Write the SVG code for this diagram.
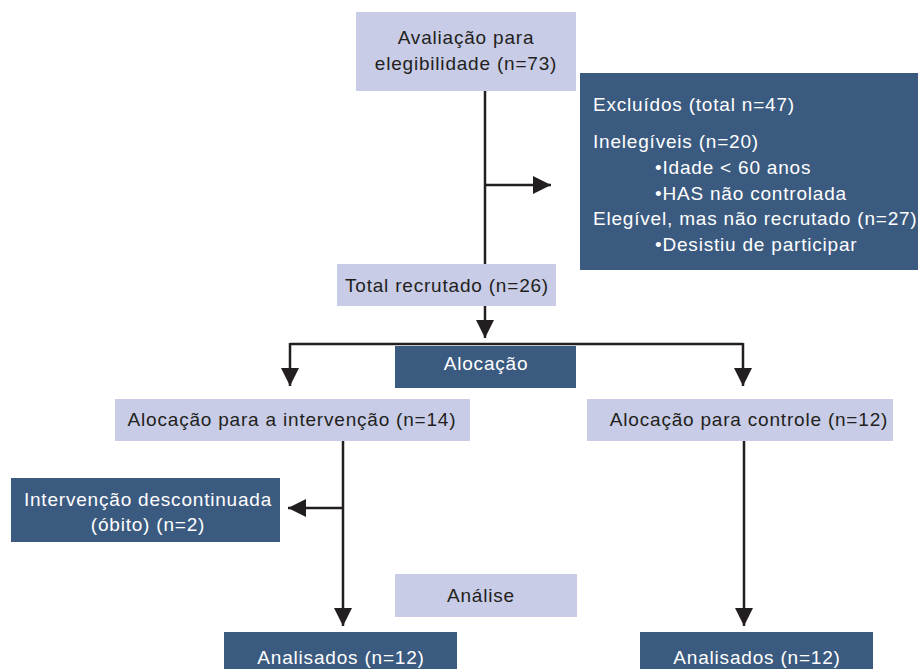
<svg xmlns="http://www.w3.org/2000/svg" width="918" height="669" viewBox="0 0 918 669">
<style>
.l{fill:#C8CCE6}
.d{fill:#3B5A80}
text{font-family:"Liberation Sans",Arial,sans-serif;font-size:19px;letter-spacing:0.8px}
.tl{fill:#231F20;text-anchor:middle}
.td{fill:#FFFFFF;text-anchor:middle}
.ts{fill:#FFFFFF}
.c{stroke:#231F20;stroke-width:2.5;fill:none}
</style>
<defs>
<marker id="a" viewBox="0 0 10 10" refX="10" refY="5" markerWidth="18" markerHeight="18" markerUnits="userSpaceOnUse" orient="auto">
<path d="M0,0 L10,5 L0,10 Z" fill="#231F20"/>
</marker>
</defs>
<g id="connectors">
<path class="c" d="M485,91 V265"/>
<path class="c" d="M485,185 H551" marker-end="url(#a)"/>
<path class="c" d="M485,306 V338" marker-end="url(#a)"/>
<path class="c" d="M290,344 H743"/>
<path class="c" d="M290,343 V386" marker-end="url(#a)"/>
<path class="c" d="M743,343 V386" marker-end="url(#a)"/>
<path class="c" d="M343,441 V626" marker-end="url(#a)"/>
<path class="c" d="M343,508 H288" marker-end="url(#a)"/>
<path class="c" d="M744,441 V626" marker-end="url(#a)"/>
</g>
<g id="n_avaliacao">
<rect class="l" x="356" y="12" width="220" height="79"/>
<text class="tl" x="466" y="44">Avaliação para</text>
<text class="tl" x="466" y="70">elegibilidade (n=73)</text>
</g>
<g id="n_excluidos">
<rect class="d" x="580" y="73" width="338" height="197"/>
<text class="ts" x="593" y="111">Excluídos (total n=47)</text>
<text class="ts" x="593" y="148">Inelegíveis (n=20)</text>
<text class="ts" x="655" y="174">•Idade &lt; 60 anos</text>
<text class="ts" x="655" y="200">•HAS não controlada</text>
<text class="ts" x="593" y="225">Elegível, mas não recrutado (n=27)</text>
<text class="ts" x="655" y="251">•Desistiu de participar</text>
</g>
<g id="n_recrutado">
<rect class="l" x="337" y="264" width="219" height="42"/>
<text class="tl" x="447" y="292">Total recrutado (n=26)</text>
</g>
<g id="n_alocacao">
<rect class="d" x="395" y="346" width="181" height="42"/>
<text class="td" x="486" y="370">Alocação</text>
</g>
<g id="n_intervencao">
<rect class="l" x="115" y="399" width="355" height="42"/>
<text class="tl" x="292" y="426">Alocação para a intervenção (n=14)</text>
</g>
<g id="n_controle">
<rect class="l" x="587" y="399" width="306" height="42"/>
<text class="tl" x="749" y="426">Alocação para controle (n=12)</text>
</g>
<g id="n_descontinuada">
<rect class="d" x="11" y="478" width="269" height="64"/>
<text class="td" x="148" y="506">Intervenção descontinuada</text>
<text class="td" x="148" y="531">(óbito) (n=2)</text>
</g>
<g id="n_analise">
<rect class="l" x="395" y="574" width="182" height="43"/>
<text class="tl" x="481" y="602">Análise</text>
</g>
<g id="n_analisados1">
<rect class="d" x="224" y="632" width="233" height="37"/>
<text class="td" x="341" y="664">Analisados (n=12)</text>
</g>
<g id="n_analisados2">
<rect class="d" x="640" y="632" width="233" height="37"/>
<text class="td" x="757" y="664">Analisados (n=12)</text>
</g>
</svg>
